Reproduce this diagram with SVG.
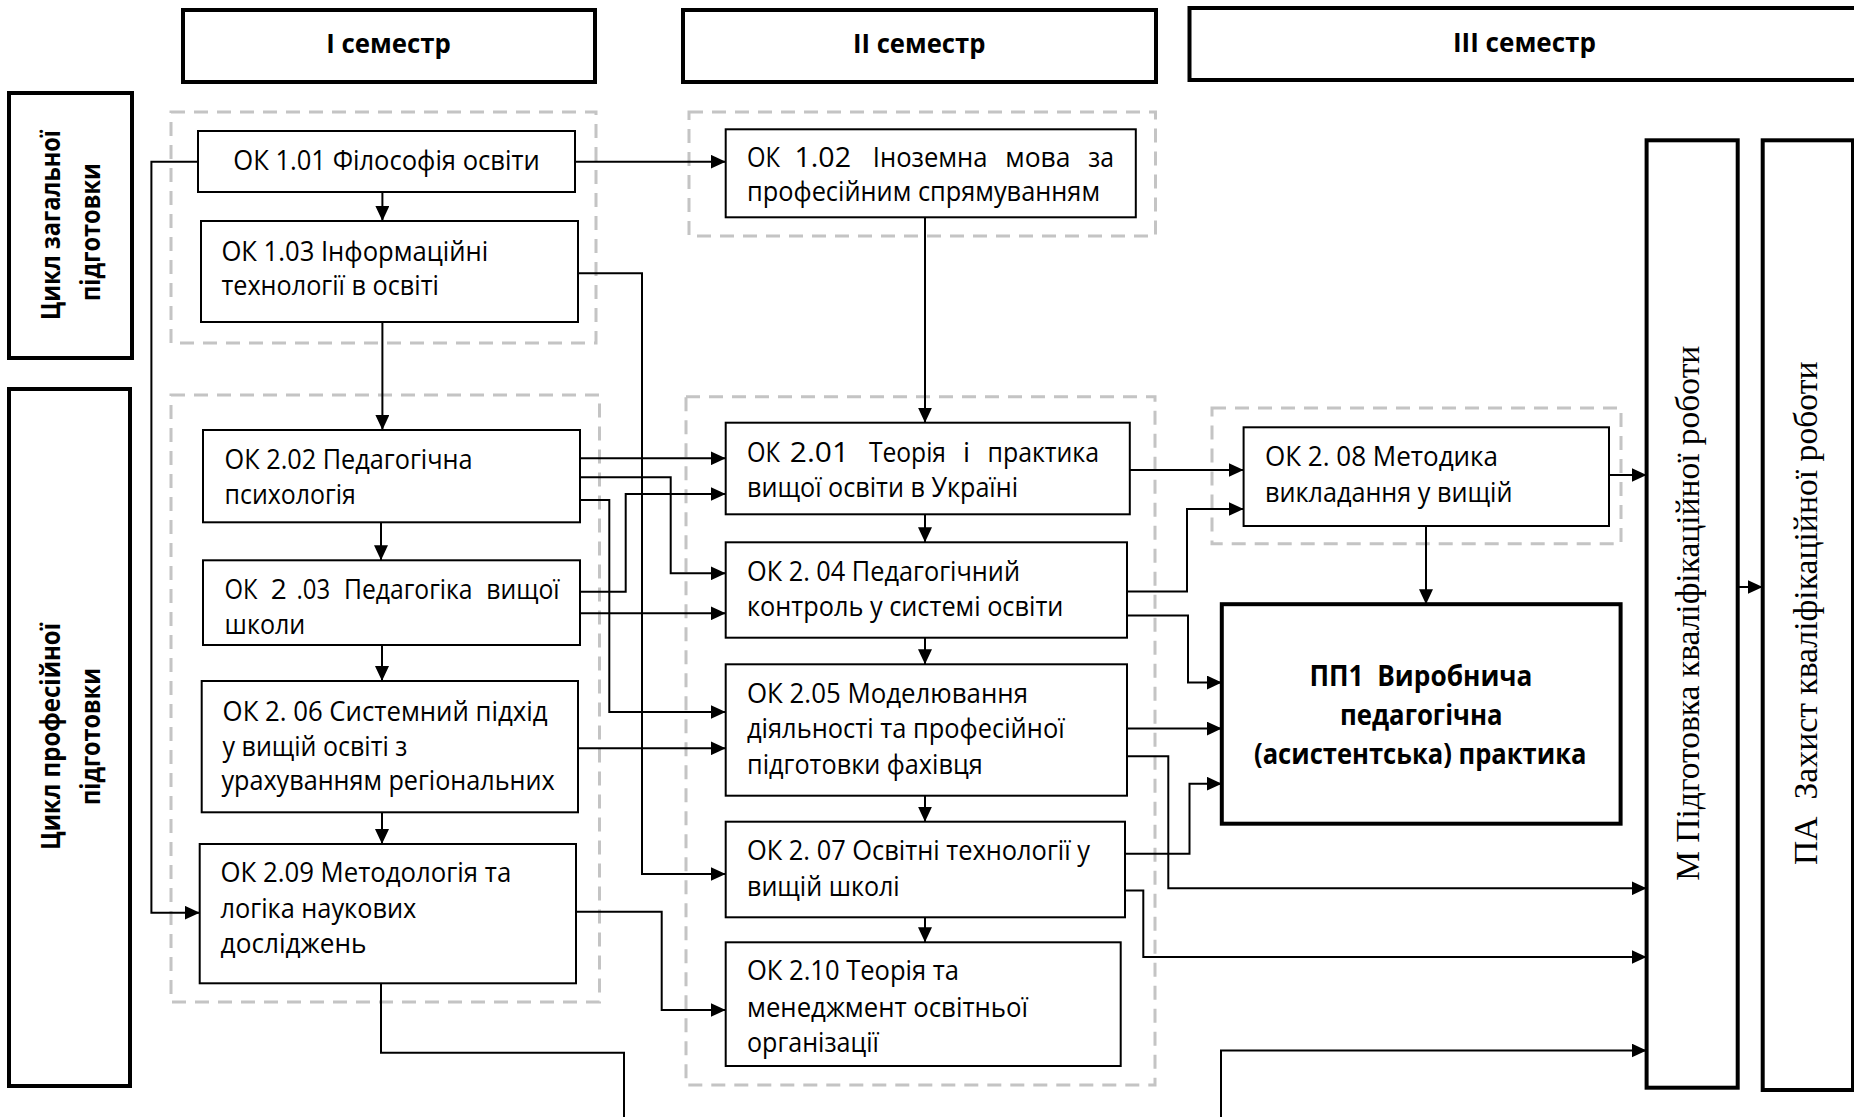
<svg xmlns="http://www.w3.org/2000/svg" width="1854" height="1117" viewBox="0 0 1854 1117">
<defs>
<style>
.box{fill:#fff;stroke:#000;stroke-width:2}
.thick{fill:#fff;stroke:#000;stroke-width:4}
.grp{fill:none;stroke:#c4c4c4;stroke-width:3;stroke-dasharray:14 9}
.conn{fill:none;stroke:#000;stroke-width:2}
.arr{marker-end:url(#ah)}
.t{font-family:"Open Sans","Noto Sans",sans-serif;font-size:28px;fill:#000}
.b{font-weight:bold;font-size:27px}
.pp{font-weight:bold;font-size:29px}
.s{font-family:"Liberation Serif","Times New Roman",serif;font-size:33px;fill:#000}
</style>
<marker id="ah" markerUnits="userSpaceOnUse" markerWidth="16" markerHeight="14" refX="15" refY="7" orient="auto">
<path d="M0,0 L15,7 L0,14 z" fill="#000"/>
</marker>
</defs>
<rect width="1854" height="1117" fill="#fff"/>

<g id="groups">
<rect class="grp" x="171" y="112" width="425" height="231"/>
<rect class="grp" x="171" y="395" width="428.5" height="607"/>
<rect class="grp" x="689" y="112" width="466.5" height="124"/>
<rect class="grp" x="686" y="396.7" width="469" height="688.3"/>
<rect class="grp" x="1212" y="408" width="409" height="135.7"/>
</g>

<g id="connectors">
<path class="conn arr" d="M575,161.7 H725.7"/>
<path class="conn arr" d="M198,161.7 H151.4 V912.7 H199.7"/>
<path class="conn arr" d="M382.4,192 V221"/>
<path class="conn arr" d="M382.4,322 V430"/>
<path class="conn arr" d="M578,273.3 H642 V874 H725.7"/>
<path class="conn arr" d="M925,217.3 V422.7"/>
<path class="conn arr" d="M381,522.3 V560.3"/>
<path class="conn arr" d="M382,645 V681"/>
<path class="conn arr" d="M382,812.3 V844"/>
<path class="conn arr" d="M580,458.3 H725.7"/>
<path class="conn arr" d="M580,477.3 H670.7 V573.3 H725.7"/>
<path class="conn arr" d="M580,500 H609.3 V712 H725.7"/>
<path class="conn arr" d="M580,591.7 H625.7 V494 H725.7"/>
<path class="conn arr" d="M580,613.3 H725.7"/>
<path class="conn arr" d="M578,748.3 H725.7"/>
<path class="conn arr" d="M576,911.7 H661.7 V1010 H725.7"/>
<path class="conn" d="M381,983.3 V1052.7 H624 V1117"/>
<path class="conn arr" d="M925,514.3 V542.3"/>
<path class="conn arr" d="M925,637.7 V664.3"/>
<path class="conn arr" d="M925,795.7 V821.7"/>
<path class="conn arr" d="M925,917.3 V942.3"/>
<path class="conn arr" d="M1129.8,470 H1243.6"/>
<path class="conn arr" d="M1127,591.4 H1187 V509 H1243.6"/>
<path class="conn arr" d="M1127,615.6 H1188 V682.5 H1221.8"/>
<path class="conn arr" d="M1127,728.6 H1221.8"/>
<path class="conn arr" d="M1127,756.3 H1168.3 V888.3 H1646.6"/>
<path class="conn arr" d="M1125,853.8 H1189.5 V783.7 H1221.8"/>
<path class="conn arr" d="M1125,890.5 H1143.3 V957 H1646.6"/>
<path class="conn arr" d="M1221,1117 V1050.5 H1646.6"/>
<path class="conn arr" d="M1426,526 V604.2"/>
<path class="conn arr" d="M1609,475 H1646.6"/>
<path class="conn arr" d="M1737.7,587 H1762.7"/>
</g>

<g id="h1"><rect class="thick" x="183" y="10" width="412" height="72"/>
<text class="t b" x="326.2" y="53" textLength="124.6" lengthAdjust="spacingAndGlyphs">І семестр</text></g>
<g id="h2"><rect class="thick" x="683" y="10" width="473" height="72"/>
<text class="t b" x="853" y="53" textLength="132.5" lengthAdjust="spacingAndGlyphs">ІІ семестр</text></g>
<g id="h3"><rect class="thick" x="1189.5" y="8" width="680" height="72"/>
<text class="t b" x="1453" y="52" textLength="143" lengthAdjust="spacingAndGlyphs">ІІІ семестр</text></g>

<g id="cycle1"><rect class="thick" x="9" y="93" width="123" height="265"/>
<text class="t b" transform="translate(60,225) rotate(-90)" x="-95" y="0" textLength="190" lengthAdjust="spacingAndGlyphs">Цикл загальної</text>
<text class="t b" transform="translate(100,232) rotate(-90)" x="-69" y="0" textLength="138" lengthAdjust="spacingAndGlyphs">підготовки</text></g>
<g id="cycle2"><rect class="thick" x="9" y="389" width="121" height="697"/>
<text class="t b" transform="translate(60,736.5) rotate(-90)" x="-113.5" y="0" textLength="227" lengthAdjust="spacingAndGlyphs">Цикл професійної</text>
<text class="t b" transform="translate(100,736.5) rotate(-90)" x="-68.5" y="0" textLength="137" lengthAdjust="spacingAndGlyphs">підготовки</text></g>

<g id="ok101"><rect class="box" x="198" y="131" width="377" height="61"/>
<text class="t" x="233.3" y="170" textLength="306.4" lengthAdjust="spacingAndGlyphs">ОК 1.01 Філософія освіти</text></g>
<g id="ok103"><rect class="box" x="201" y="221" width="377" height="101"/>
<text class="t" x="221.4" y="260.7" textLength="266.9" lengthAdjust="spacingAndGlyphs">ОК 1.03 Інформаційні</text>
<text class="t" x="221.4" y="295" textLength="217.5" lengthAdjust="spacingAndGlyphs">технології в освіті</text></g>
<g id="ok202"><rect class="box" x="203" y="430" width="377" height="92.3"/>
<text class="t" x="224.6" y="469" textLength="247.9" lengthAdjust="spacingAndGlyphs">ОК 2.02 Педагогічна</text>
<text class="t" x="224.6" y="504.3" textLength="131.3" lengthAdjust="spacingAndGlyphs">психологія</text></g>
<g id="ok203"><rect class="box" x="203" y="560.3" width="377" height="84.7"/>
<text class="t" x="224.6" y="599.3" textLength="33" lengthAdjust="spacingAndGlyphs">ОК</text>
<text class="t" x="270.8" y="599.3">2</text>
<text class="t" x="296.6" y="599.3" textLength="33.6" lengthAdjust="spacingAndGlyphs">.03</text>
<text class="t" x="344" y="599.3" textLength="128.5" lengthAdjust="spacingAndGlyphs">Педагогіка</text>
<text class="t" x="486.3" y="599.3" textLength="73.2" lengthAdjust="spacingAndGlyphs">вищої</text>
<text class="t" x="224.6" y="634.3" textLength="80.7" lengthAdjust="spacingAndGlyphs">школи</text></g>
<g id="ok206"><rect class="box" x="201.7" y="681" width="376.3" height="131.3"/>
<text class="t" x="222.6" y="720.7" textLength="325" lengthAdjust="spacingAndGlyphs">ОК 2. 06 Системний підхід</text>
<text class="t" x="222.6" y="755.7" textLength="184.7" lengthAdjust="spacingAndGlyphs">у вищій освіті з</text>
<text class="t" x="221.4" y="790" textLength="333.3" lengthAdjust="spacingAndGlyphs">урахуванням регіональних</text></g>
<g id="ok209"><rect class="box" x="199.7" y="844" width="376.3" height="139.3"/>
<text class="t" x="220.6" y="881.7" textLength="290.6" lengthAdjust="spacingAndGlyphs">ОК 2.09 Методологія та</text>
<text class="t" x="220.6" y="917.7" textLength="195.7" lengthAdjust="spacingAndGlyphs">логіка наукових</text>
<text class="t" x="220.6" y="952.7" textLength="145.9" lengthAdjust="spacingAndGlyphs">досліджень</text></g>

<g id="ok102"><rect class="box" x="725.7" y="129.3" width="410.1" height="88"/>
<text class="t" x="747.1" y="166.7" textLength="33" lengthAdjust="spacingAndGlyphs">ОК</text>
<text class="t" x="794.5" y="166.7" textLength="56.5" lengthAdjust="spacingAndGlyphs">1.02</text>
<text class="t" x="872.8" y="166.7" textLength="114.7" lengthAdjust="spacingAndGlyphs">Іноземна</text>
<text class="t" x="1005.3" y="166.7" textLength="65.2" lengthAdjust="spacingAndGlyphs">мова</text>
<text class="t" x="1088.3" y="166.7" textLength="25.7" lengthAdjust="spacingAndGlyphs">за</text>
<text class="t" x="747" y="201" textLength="353" lengthAdjust="spacingAndGlyphs">професійним спрямуванням</text></g>
<g id="ok201"><rect class="box" x="725.7" y="422.7" width="404.1" height="91.6"/>
<text class="t" x="747.1" y="461.7" textLength="33" lengthAdjust="spacingAndGlyphs">ОК</text>
<text class="t" x="789.8" y="461.7" textLength="59.2" lengthAdjust="spacingAndGlyphs">2.01</text>
<text class="t" x="868.9" y="461.7" textLength="77.1" lengthAdjust="spacingAndGlyphs">Теорія</text>
<text class="t" x="963" y="461.7">і</text>
<text class="t" x="987.5" y="461.7" textLength="111.5" lengthAdjust="spacingAndGlyphs">практика</text>
<text class="t" x="747" y="497.3" textLength="271" lengthAdjust="spacingAndGlyphs">вищої освіти в Україні</text></g>
<g id="ok204"><rect class="box" x="725.7" y="542.3" width="401.3" height="95.4"/>
<text class="t" x="747" y="580.7" textLength="273" lengthAdjust="spacingAndGlyphs">ОК 2. 04 Педагогічний</text>
<text class="t" x="747" y="616" textLength="316.4" lengthAdjust="spacingAndGlyphs">контроль у системі освіти</text></g>
<g id="ok205"><rect class="box" x="725.7" y="664.3" width="401.3" height="131.4"/>
<text class="t" x="747" y="702.5" textLength="281" lengthAdjust="spacingAndGlyphs">ОК 2.05 Моделювання</text>
<text class="t" x="747" y="738" textLength="317.6" lengthAdjust="spacingAndGlyphs">діяльності та професійної</text>
<text class="t" x="747" y="774" textLength="235.7" lengthAdjust="spacingAndGlyphs">підготовки фахівця</text></g>
<g id="ok207"><rect class="box" x="725.7" y="821.7" width="399.3" height="95.6"/>
<text class="t" x="747" y="860" textLength="343" lengthAdjust="spacingAndGlyphs">ОК 2. 07 Освітні технології у</text>
<text class="t" x="747" y="896" textLength="152.7" lengthAdjust="spacingAndGlyphs">вищій школі</text></g>
<g id="ok210"><rect class="box" x="725.7" y="942.3" width="395" height="123.7"/>
<text class="t" x="747" y="980" textLength="212" lengthAdjust="spacingAndGlyphs">ОК 2.10 Теорія та</text>
<text class="t" x="747" y="1016.7" textLength="281" lengthAdjust="spacingAndGlyphs">менеджмент освітньої</text>
<text class="t" x="747" y="1051.7" textLength="131.8" lengthAdjust="spacingAndGlyphs">організації</text></g>

<g id="ok208"><rect class="box" x="1243.6" y="427.3" width="365.4" height="98.7"/>
<text class="t" x="1265" y="466" textLength="233" lengthAdjust="spacingAndGlyphs">ОК 2. 08 Методика</text>
<text class="t" x="1265" y="501.6" textLength="247.4" lengthAdjust="spacingAndGlyphs">викладання у вищій</text></g>
<g id="pp1"><rect class="thick" x="1221.8" y="604.2" width="398.8" height="219.5"/>
<text class="t pp" x="1309.4" y="685.6" textLength="223" lengthAdjust="spacingAndGlyphs">ПП1&#160; Виробнича</text>
<text class="t pp" x="1340" y="725.4" textLength="162.5" lengthAdjust="spacingAndGlyphs">педагогічна</text>
<text class="t pp" x="1254" y="764" textLength="332.4" lengthAdjust="spacingAndGlyphs">(асистентська) практика</text></g>

<g id="m"><rect class="thick" x="1646.6" y="140.3" width="91.1" height="947.4"/>
<text class="s" transform="translate(1699,613.4) rotate(-90)" x="-267.4" y="0" textLength="535" lengthAdjust="spacingAndGlyphs">М Підготовка кваліфікаційної роботи</text></g>
<g id="pa"><rect class="thick" x="1762.7" y="140.3" width="90.3" height="949.7"/>
<text class="s" transform="translate(1816.7,613.2) rotate(-90)" x="-251.8" y="0" textLength="503.5" lengthAdjust="spacingAndGlyphs">ПА&#160; Захист кваліфікаційної роботи</text></g>
</svg>
